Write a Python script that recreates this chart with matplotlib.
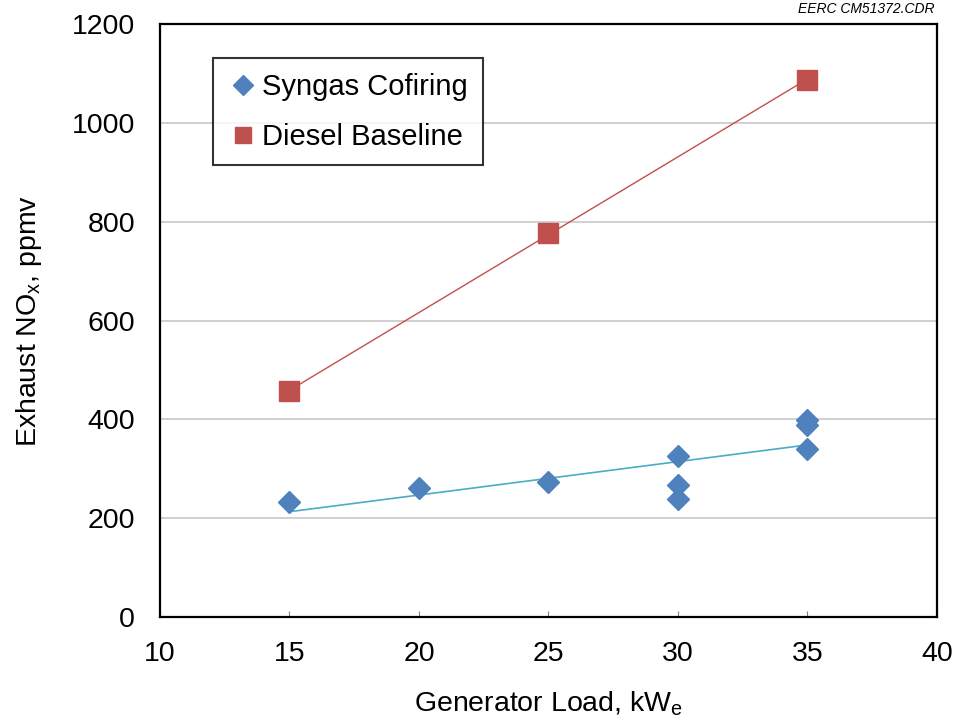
import numpy as np
import matplotlib.pyplot as plt

plt.rcParams['font.family'] = ['Liberation Sans', 'DejaVu Sans']

# data
syn_load = [15, 20, 25, 30, 30, 30, 35, 35, 35]
syn_nox = [233, 262, 274, 326, 268, 238, 399, 389, 340]
die_load = [15, 25, 35]
die_nox = [457, 777, 1087]

fig = plt.figure(figsize=(9.57, 7.21), dpi=100)
ax = fig.add_axes([0.1672, 0.1442, 0.8118, 0.8225])

# linear trendlines
xs = np.array([15, 35])
p = np.polyfit(syn_load, syn_nox, 1)
ax.plot(xs, np.polyval(p, xs), color='#4BACC6', lw=1.2, zorder=2)
p = np.polyfit(die_load, die_nox, 1)
ax.plot(xs, np.polyval(p, xs), color='#C0504D', lw=1.0, zorder=2)

ax.plot(syn_load, syn_nox, 'D', color='#4F81BD', ms=11.5, ls='none',
        label='Syngas Cofiring', zorder=3)
ax.plot(die_load, die_nox, 's', color='#C0504D', ms=14, ls='none',
        label='Diesel Baseline', zorder=3)

ax.set_xlim(10, 40)
ax.set_ylim(0, 1200)
ax.set_xticks(range(10, 41, 5))
ax.set_yticks(range(0, 1201, 200))
ax.yaxis.grid(True, color='#c8c8c8', lw=1.2)
ax.set_axisbelow(True)
ax.tick_params(axis='x', direction='in', length=4, width=0.8, color='#808080',
               labelsize=20.5, pad=17)
ax.tick_params(axis='y', length=0, labelsize=20.5, pad=18)
for s in ax.spines.values():
    s.set_linewidth(1.6)

ax.set_xlabel('Generator Load, kW$_\\mathregular{e}$', fontsize=20.5, labelpad=16)
ax.set_ylabel('Exhaust NO$_\\mathregular{x}$, ppmv', fontsize=20.5, labelpad=20)

leg = ax.legend(loc='upper left', bbox_to_anchor=(0.068, 0.942), fontsize=21,
                frameon=True, fancybox=False, edgecolor='black',
                handletextpad=0.1, handlelength=1.1, borderpad=0.5,
                labelspacing=0.75, markerscale=0.85, borderaxespad=0)
leg.get_frame().set_linewidth(1.5)

fig.text(0.977, 0.978, 'EERC CM51372.CDR', ha='right', va='bottom',
         fontsize=10, style='italic')

fig.savefig('out.png', dpi=100)
